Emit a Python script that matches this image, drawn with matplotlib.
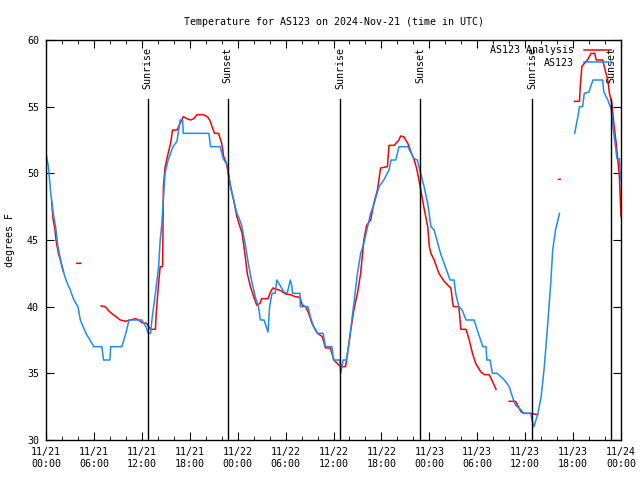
import numpy as np
import matplotlib
matplotlib.use("Agg")
import matplotlib.pyplot as plt

plt.rcParams['font.family'] = 'DejaVu Sans Mono'
plt.rcParams['font.size'] = 7.2

nan = np.nan

# Observed temperature (hours since 11/21 00:00 UTC, degrees F)
obs_hours = [0.0, 0.3, 0.6, 0.9, 1.2, 1.5, 2.0, 2.5, 3.0, 3.5, 4.0, 4.3, 5.0, 5.5, 6.0, 7.0, 7.2, 8.0, 8.1,
             9.5, 10.0, 10.4, 12.0, 12.5, 12.8, 13.1, 13.26, 13.7, 14.1, 14.3, 14.5, 14.9, 15.3, 15.6, 15.9,
             16.4, 16.7, 16.8, 17.1, 17.2, 20.4, 20.6, 21.8, 22.2, 22.7, 22.9, 23.3, 23.5, 23.9, 24.1, 24.5,
             25.0, 25.4, 25.8, 26.2, 26.6, 26.85, 27.3, 27.8, 28.0, 28.3, 28.7, 28.9, 29.4, 29.8, 30.2, 30.6,
             30.8, 30.85, 31.8, 31.85, 32.8, 33.1, 33.5, 34.0, 34.7, 35.0, 35.8, 36.0, 36.8, 36.9, 37.2, 37.6,
             37.9, 38.2, 38.6, 39.0, 39.4, 39.8, 40.65, 41.1, 41.7, 42.3, 42.95, 43.2, 43.8, 44.2, 45.3, 46.1,
             46.5, 46.8, 47.3, 47.8, 48.2, 48.6, 49.4, 49.85, 50.6, 51.1, 51.3, 51.7, 52.1, 52.6, 53.6, 54.0,
             54.7, 55.1, 55.2, 55.6, 55.9, 56.5, 57.4, 58.0, 58.4, 58.8, 59.5, 59.8, 60.7, 60.85, 61.1, 61.35,
             61.6, 62.0, 62.4, 62.8, 63.2, 63.45, 63.8, 64.3, nan,
             66.2, 66.6, 66.8, 67.2, 67.4, 68.0, 68.25, 68.5, 69.7, 69.85, 70.35, 70.8, 71.0, 71.2, 71.5,
             71.8, 71.9, 72.0]
obs_temps = [51.5, 50.5, 48.5, 47, 46, 44.5, 43, 42, 41.3, 40.5, 40, 39, 38, 37.5, 37, 37, 36, 36, 37,
             37, 38, 39, 39, 38.5, 38, 38, 39, 41, 43, 45, 46.2, 50, 51, 51.5, 52,
             52.4, 53.6, 54, 54, 53, 53, 52, 52, 51.1, 50.6, 49.7, 48.5, 48, 47, 46.75, 46.1,
             44.5, 43, 41.8, 40.75, 40, 39, 39, 38.1, 40, 41, 41, 42, 41.5, 41.1, 41, 42,
             41.5, 41, 41, 40, 40, 39.25, 38.5, 38, 38, 37, 37, 36, 36, 35, 36, 36,
             37, 38.5, 40.5, 42.5, 44, 44.75, 47, 47.75, 49, 49.5, 50.25, 51, 51, 52, 52, 51.1,
             51, 50.25, 49.1, 47.75, 46, 45.75, 44, 43.25, 42, 42, 41, 40, 39.75, 39, 39, 38.25,
             37, 37, 36, 36, 35, 35, 34.5, 34, 33.25, 32.6, 32.25, 32, 32, 31.5, 31, 31.5,
             32, 33.25, 35.5, 38.5, 41.75, 44.25, 45.75, 47, nan,
             53, 54.25, 55, 55, 56, 56.1, 56.6, 57, 57, 56.1, 55.5, 54.75, 53.5, 52.5, 51.1,
             51.1, 50, 49.5]

# Analysis temperature
ana_hours = [0.7, 0.9, 1.1, 1.25, 1.55, 1.8, 2.2, nan,
             3.85, 4.35, nan,
             6.9, 7.4, 8.0, 8.65, 9.3, 10.0, 10.5, 11.2, 11.6, 12.0, 12.6, 12.85, 13.1, 13.7, 13.8, 14.1,
             14.3, 14.6, 14.7, 14.9, 15.1, 15.6, 15.85, 16.4, 16.8, 17.2, 17.65, 18.1, 18.5, 18.9, 19.7,
             20.2, 20.5, 20.8, 21.1, 21.6, 22.0, 22.25, 22.6, 22.9, 23.1, 23.5, 23.9, 24.55, 24.9, 25.2,
             25.6, 26.0, 26.4, 26.8, 27.0, 27.8, 28.1, 28.4, 29.4, 30.0, 30.6, 31.2, 31.8, 32.1, 32.5,
             32.9, 33.3, 34.0, 34.6, 35.0, 35.6, 36.05, 36.7, 37.1, 37.5, 37.7, 38.1, 38.55, 39.0, 39.4,
             39.8, 40.15, 40.65, 41.05, 41.5, 41.9, 42.75, 42.95, 43.6, 44.2, 44.4, 44.8, 45.3, 45.7,
             46.1, 46.4, 46.7, 47.0, 47.3, 47.8, 48.0, 48.2, 48.6, 49.2, 49.85, 50.5, 50.7, 50.9, 51.0,
             51.7, 51.85, 51.95, 52.6, 53.0, 53.4, 53.8, 54.45, 54.9, 55.5, 55.9, 56.35, nan,
             58.0, 58.8, 59.5, 59.8, 60.7, 61.55, nan,
             64.22, 64.38, nan,
             66.2, 66.8, 66.9, 67.1, 67.4, 67.8, 68.25, 68.7, 68.9, 69.7, 69.9, 70.35, 70.55, 70.85,
             71.1, 71.4, 71.6, 71.8, 72.0]
ana_temps = [47.9, 46.5, 45.9, 45, 44, 43.5, 42.6, nan,
             43.25, 43.25, nan,
             40.05, 40, 39.6, 39.3, 39, 38.9, 39, 39.1, 39, 38.8, 38.75, 38.5, 38.3, 38.3, 39.5, 41.75,
             43, 43, 49, 50.4, 51, 52.25, 53.25, 53.25, 53.75, 54.25, 54.1, 54, 54.1, 54.4, 54.4,
             54.25, 54, 53.5, 53, 53, 52.25, 51.25, 50.75, 49.75, 49, 48, 46.75, 45.5, 44, 42.5,
             41.5, 40.75, 40.1, 40.25, 40.6, 40.6, 41.1, 41.4, 41.2, 40.95, 40.9, 40.75, 40.7, 40.1, 40,
             39.5, 38.75, 38, 37.75, 36.9, 36.9, 36, 35.6, 35.5, 35.5, 36.25, 38, 39.75, 41, 42.5,
             45, 46.1, 46.5, 47.75, 48.75, 50.4, 50.5, 52.1, 52.1, 52.5, 52.8, 52.75, 52.25, 51.6,
             51, 50.4, 49.5, 48.5, 47.5, 46, 44.5, 44, 43.5, 42.5, 41.9, 41.5, 41.4, 40.4, 40,
             40, 39, 38.3, 38.3, 37.5, 36.5, 35.75, 35.1, 34.9, 34.9, 34.4, 33.8, nan,
             32.9, 32.9, 32.1, 32, 32, 31.9, nan,
             49.55, 49.55, nan,
             55.4, 55.4, 56.5, 58, 58.25, 58.5, 59, 59, 58.5, 58.5, 58, 57, 56, 55.25,
             53.75, 52.25, 51, 49.75, 46.75]

sun_hours = [12.75, 22.73, 36.8, 46.83, 60.9, 70.78]
sun_labels = ['Sunrise', 'Sunset', 'Sunrise', 'Sunset', 'Sunrise', 'Sunset']

tick_hours = list(range(0, 73, 6))
tick_labels = ['11/21\n00:00', '11/21\n06:00', '11/21\n12:00', '11/21\n18:00',
               '11/22\n00:00', '11/22\n06:00', '11/22\n12:00', '11/22\n18:00',
               '11/23\n00:00', '11/23\n06:00', '11/23\n12:00', '11/23\n18:00',
               '11/24\n00:00']

fig = plt.figure(figsize=(6.4, 4.8), dpi=100)
ax = fig.add_axes([46 / 640, 40 / 480, 575 / 640, 400 / 480])

ax.plot(ana_hours, ana_temps, color='red', lw=1.1, label='AS123 Analysis')
ax.plot(obs_hours, obs_temps, color='#1a8cff', lw=1.1, label='AS123')

# sunrise / sunset markers
for h, lab in zip(sun_hours, sun_labels):
    ax.plot([h, h], [30, 55.6], color='black', lw=1)
    ax.text(h, 59.5, lab, rotation=90, ha='center', va='top')

ax.set_xlim(0, 72)
ax.set_ylim(30, 60)
ax.set_xticks(tick_hours)
ax.set_xticklabels(tick_labels)
ax.set_xticks(range(0, 73, 2), minor=True)
ax.set_yticks(range(30, 61, 5))
ax.tick_params(which='both', direction='in', top=True, right=True, pad=5)
ax.tick_params(which='major', length=6)
ax.tick_params(which='minor', length=3)
for s in ax.spines.values():
    s.set_linewidth(1)

ax.set_ylabel('degrees F', labelpad=9)
ax.set_title('Temperature for AS123 on 2024-Nov-21 (time in UTC)', fontsize=7.2, pad=11)

ax.legend(loc='upper right', bbox_to_anchor=(0.989, 0.997), frameon=False, markerfirst=False,
          handlelength=2.7, borderaxespad=0, labelspacing=0.25, handletextpad=1.0)

plt.savefig('out.png')
